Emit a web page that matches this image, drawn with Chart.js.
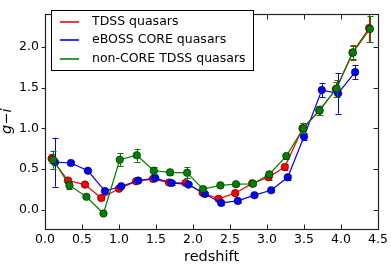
<!DOCTYPE html>
<html>
<head>
<meta charset="utf-8">
<script src="https://cdn.jsdelivr.net/npm/chart.js@4"></script>
<style>
  html, body { margin: 0; padding: 0; background: #fff; }
  #wrap { width: 391px; height: 265px; }
</style>
</head>
<body>
<div id="wrap"><canvas id="colorChart" width="391" height="265"></canvas></div>
<script>
// g-i colour vs redshift
const seriesNames = ['TDSS quasars', 'eBOSS CORE quasars', 'non-CORE TDSS quasars'];
const seriesColors = ['#ff0000', '#0000ff', '#008000'];

const tdssZ   = [0.09, 0.31, 0.54, 0.76, 1.00, 1.23, 1.46, 1.675, 1.90, 2.13, 2.345, 2.57, 2.80, 3.02, 3.24, 3.48, 3.706, 3.93, 4.155, 4.38];
const tdssGi  = [0.63, 0.36, 0.31, 0.145, 0.26, 0.35, 0.38, 0.335, 0.33, 0.21, 0.135, 0.205, 0.325, 0.40, 0.525, 1.00, 1.22, 1.48, 1.93, 2.23];
const tdssErr = [0.06, 0.03, 0.02, 0.02, 0.02, 0.02, 0.02, 0.02, 0.02, 0.02, 0.02, 0.02, 0.02, 0.03, 0.04, 0.07, 0.06, 0.09, 0.09, 0.17];

const coreZ   = [0.135, 0.35, 0.58, 0.81, 1.03, 1.26, 1.49, 1.71, 1.94, 2.16, 2.38, 2.605, 2.83, 3.055, 3.28, 3.50, 3.74, 3.96, 4.19];
const coreGi  = [0.585, 0.575, 0.48, 0.23, 0.29, 0.36, 0.39, 0.33, 0.31, 0.195, 0.085, 0.11, 0.18, 0.24, 0.40, 0.90, 1.47, 1.43, 1.69];
const coreErr = [0.30, 0.02, 0.02, 0.02, 0.02, 0.02, 0.02, 0.02, 0.02, 0.02, 0.02, 0.02, 0.02, 0.02, 0.03, 0.04, 0.09, 0.25, 0.09];

const nonCoreZ   = [0.11, 0.33, 0.56, 0.79, 1.01, 1.24, 1.47, 1.69, 1.92, 2.135, 2.37, 2.58, 2.81, 3.03, 3.26, 3.49, 3.71, 3.94, 4.16, 4.39];
const nonCoreGi  = [0.615, 0.30, 0.16, -0.045, 0.615, 0.67, 0.48, 0.46, 0.455, 0.255, 0.30, 0.315, 0.32, 0.435, 0.66, 1.00, 1.22, 1.49, 1.93, 2.22];
const nonCoreErr = [0.11, 0.04, 0.02, 0.02, 0.08, 0.08, 0.04, 0.03, 0.07, 0.02, 0.02, 0.02, 0.02, 0.02, 0.03, 0.06, 0.06, 0.10, 0.08, 0.16];

const xTicks = [0.0, 0.5, 1.0, 1.5, 2.0, 2.5, 3.0, 3.5, 4.0, 4.5];
const yTicks = [0.0, 0.5, 1.0, 1.5, 2.0];

const FONT = "'DejaVu Sans', sans-serif";

function pts(xs, ys) {
    return xs.map((x, i) => ({ x: x, y: ys[i] }));
}

function makeSet(i, xs, ys, errs) {
    return {
        label: seriesNames[i],
        data: pts(xs, ys),
        errors: errs,
        showLine: true,
        borderColor: seriesColors[i],
        borderWidth: 1.2,
        backgroundColor: seriesColors[i],
        pointRadius: 3.8,
        pointBackgroundColor: seriesColors[i],
        pointBorderColor: '#000',
        pointBorderWidth: 0.5,
        order: 3 - i   // later series on top, like matplotlib
    };
}

// error bars under each series' line + markers
const errorBars = {
    id: 'errorBars',
    beforeDatasetDraw(chart, args) {
        const ds = chart.data.datasets[args.index];
        if (!ds.errors) return;
        const ctx = chart.ctx, xs = chart.scales.x, ys = chart.scales.y;
        ctx.save();
        ctx.strokeStyle = ds.borderColor;
        ctx.lineWidth = 1;
        ds.data.forEach((p, i) => {
            const e = ds.errors[i];
            const px = Math.round(xs.getPixelForValue(p.x)) + 0.5;
            const y1 = ys.getPixelForValue(p.y - e);
            const y2 = ys.getPixelForValue(p.y + e);
            ctx.beginPath();
            ctx.moveTo(px, y1); ctx.lineTo(px, y2);
            ctx.moveTo(px - 3, Math.round(y1) + 0.5); ctx.lineTo(px + 3, Math.round(y1) + 0.5);
            ctx.moveTo(px - 3, Math.round(y2) + 0.5); ctx.lineTo(px + 3, Math.round(y2) + 0.5);
            ctx.stroke();
        });
        ctx.restore();
    }
};

// axes frame, matplotlib-style tick marks and the boxed legend
const frameAndLegend = {
    id: 'frameAndLegend',
    afterDatasetsDraw(chart) {
        const ctx = chart.ctx, a = chart.chartArea;
        const xs = chart.scales.x, ys = chart.scales.y;
        const L = Math.round(a.left) + 0.5, R = Math.round(a.right) + 0.5;
        const T = Math.round(a.top) + 0.5, B = Math.round(a.bottom) + 0.5;
        ctx.save();
        ctx.strokeStyle = '#222';
        ctx.lineWidth = 1.2;
        ctx.strokeRect(L, T, R - L, B - T);
        ctx.lineWidth = 1;
        ctx.beginPath();
        xTicks.forEach(v => {
            const px = Math.round(xs.getPixelForValue(v)) + 0.5;
            ctx.moveTo(px, B); ctx.lineTo(px, B - 5);
            ctx.moveTo(px, T); ctx.lineTo(px, T + 5);
        });
        yTicks.forEach(v => {
            const py = Math.round(ys.getPixelForValue(v)) + 0.5;
            ctx.moveTo(L, py); ctx.lineTo(L - 4, py);
            ctx.moveTo(R, py); ctx.lineTo(R - 5, py);
        });
        ctx.stroke();

        // legend box
        const bx = 51.5, by = 10.5, bw = 202, bh = 60;
        ctx.fillStyle = '#fff';
        ctx.fillRect(bx, by, bw, bh);
        ctx.strokeStyle = '#000';
        ctx.strokeRect(bx, by, bw, bh);
        ctx.font = '12.5px ' + FONT;
        ctx.textBaseline = 'middle';
        chart.data.datasets.forEach((ds, i) => {
            const ry = 21.5 + i * 18.5;
            ctx.strokeStyle = seriesColors[i];
            ctx.lineWidth = 1.6;
            ctx.beginPath();
            ctx.moveTo(60, Math.round(ry)); ctx.lineTo(79, Math.round(ry));
            ctx.stroke();
            ctx.fillStyle = '#000';
            ctx.fillText(ds.label, 92, ry);
        });
        ctx.restore();
    }
};

new Chart(document.getElementById('colorChart'), {
    type: 'scatter',
    data: {
        datasets: [
            makeSet(0, tdssZ, tdssGi, tdssErr),
            makeSet(1, coreZ, coreGi, coreErr),
            makeSet(2, nonCoreZ, nonCoreGi, nonCoreErr)
        ]
    },
    options: {
        responsive: false,
        devicePixelRatio: 1,
        animation: false,
        layout: { padding: { left: 0, right: 12, top: 4, bottom: 0 } },
        plugins: { legend: { display: false }, tooltip: { enabled: false } },
        scales: {
            x: {
                type: 'linear', min: 0, max: 4.5,
                afterFit: s => { s.height = 36; },
                afterBuildTicks: s => { s.ticks = xTicks.map(v => ({ value: v })); },
                grid: { display: false, drawTicks: false },
                border: { display: false },
                ticks: { color: '#000', padding: 3, font: { family: FONT, size: 12.5 },
                         callback: v => v.toFixed(1), maxRotation: 0, autoSkip: false },
                title: { display: true, text: 'redshift', color: '#000',
                         font: { family: FONT, size: 14.5, lineHeight: 1 }, padding: { top: 0, bottom: 1 } }
            },
            y: {
                type: 'linear', min: -0.235, max: 2.41,
                afterFit: s => { s.width = 45; },
                afterBuildTicks: s => { s.ticks = yTicks.map(v => ({ value: v })); },
                grid: { display: false, drawTicks: false },
                border: { display: false },
                ticks: { color: '#000', padding: 6, font: { family: FONT, size: 12.5 },
                         callback: v => v.toFixed(1) },
                title: { display: true, text: 'g\u2212i', color: '#000',
                         font: { family: FONT, size: 14.5, style: 'italic', lineHeight: 1 }, padding: 0 }
            }
        }
    },
    plugins: [errorBars, frameAndLegend]
});
</script>
</body>
</html>
